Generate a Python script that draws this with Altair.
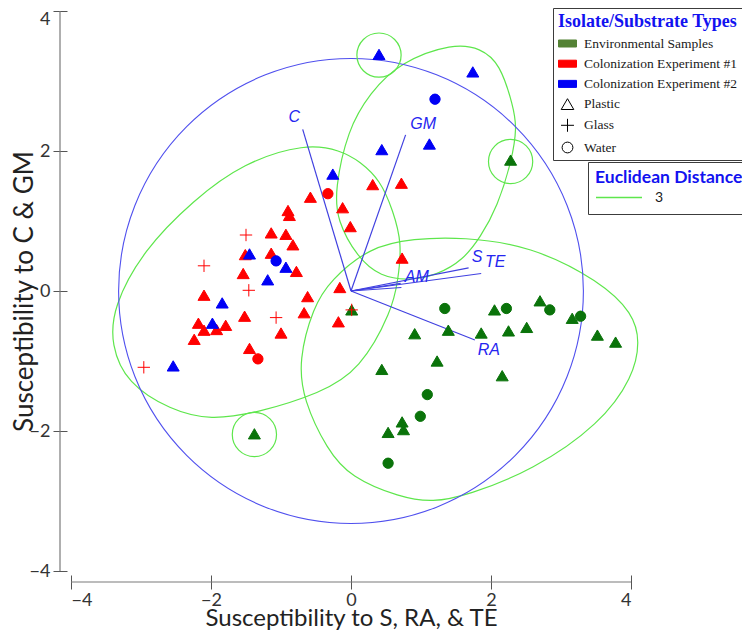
import altair as alt
import pandas as pd

# ---------------- data ----------------
GROUP_LABELS = ["Environmental Samples", "Colonization Experiment #1", "Colonization Experiment #2"]
SUBSTRATES = ["Plastic", "Glass", "Water"]
POINT_GROUPS = ["Environmental", "Colonization #1", "Colonization #2"]

env_plastic_x = [2.28, 0.01, 0.91, 1.39, 1.86, 2.05, 2.25, 2.51, 2.70, 3.16, 3.52, 3.78, 1.23, 0.44, 2.16, 0.73, 0.75, 0.53, -1.38]
env_plastic_y = [1.87, -0.27, -0.61, -0.56, -0.60, -0.27, -0.57, -0.52, -0.14, -0.39, -0.63, -0.73, -1.00, -1.12, -1.21, -1.87, -1.98, -2.02, -2.04]
env_water_x = [1.34, 2.22, 2.84, 3.28, 1.09, 0.99, 0.53]
env_water_y = [-0.25, -0.25, -0.27, -0.36, -1.48, -1.79, -2.46]

col1_plastic_x = [-0.58, -0.12, -0.90, -0.88, -0.01, -1.14, -0.93, -0.83, -1.51, -1.14, -0.78, -1.54, -0.16, -2.10,
                  -0.62, -0.67, -1.52, -0.18, -1.00, -2.18, -2.10, -1.92, -1.79, -2.24, -1.45, 0.31, 0.72, 0.73]
col1_plastic_y = [1.34, 1.19, 1.15, 1.08, 0.92, 0.83, 0.81, 0.66, 0.52, 0.54, 0.28, 0.25, 0.05, -0.06,
                  -0.08, -0.31, -0.36, -0.44, -0.60, -0.46, -0.56, -0.55, -0.49, -0.69, -0.82, 1.52, 1.54, 0.47]
col1_glass_x = [-1.50, -2.10, -1.46, -1.07, 0.01, -2.96]
col1_glass_y = [0.80, 0.36, 0.01, -0.38, -0.27, -1.09]
col1_water_x = [-0.33, -1.33]
col1_water_y = [1.39, -0.97]

col2_plastic_x = [0.40, 1.74, 1.12, 0.44, -0.26, -1.45, -0.93, -1.19, -1.84, -1.98, -2.54]
col2_plastic_y = [3.38, 3.13, 2.10, 2.02, 1.67, 0.53, 0.34, 0.16, -0.17, -0.46, -1.07]
col2_water_x = [1.20, -1.07]
col2_water_y = [2.74, 0.43]

# biplot vectors (the last one is an unlabeled vector hidden under "AM")
vec_names = ["C", "GM", "S", "TE", "AM", ""]
vec_x = [-0.69, 0.78, 1.68, 1.86, 0.72, 0.71]
vec_y = [2.31, 2.23, 0.33, 0.25, 0.05, 0.11]
ra_x, ra_y = 1.77, -0.70
lab_names = ["C", "GM", "S", "TE", "AM", "RA"]
lab_x = [-0.81, 1.03, 1.80, 2.06, 0.94, 1.97]
lab_y = [2.49, 2.39, 0.48, 0.41, 0.20, -0.84]

# Euclidean-distance contours (outline points)
left_x = [-0.65, -0.15, 0.13, 0.42, 0.60, 0.73, 0.67, 0.59, 0.13, -0.44, -1.30, -2.01, -2.58, -3.20, -3.43, -3.40, -2.97, -2.25, -1.54]
left_y = [2.11, 2.01, 1.85, 1.58, 1.15, 0.68, 0.15, -0.27, -1.13, -1.46, -1.73, -1.85, -1.70, -1.32, -0.77, -0.23, 0.58, 1.30, 1.83]
top_x = [1.46, 1.85, 2.13, 2.32, 2.37, 2.30, 2.09, 1.85, 1.60, 1.23, 0.85, 0.42, 0.09, -0.20, -0.23, -0.05, 0.27, 0.70]
top_y = [3.54, 3.47, 3.25, 2.63, 2.34, 1.87, 1.20, 0.77, 0.44, 0.23, 0.15, 0.20, 0.48, 1.01, 1.44, 2.30, 2.83, 3.27]
right_x = [0.89, 1.60, 2.56, 3.56, 4.03, 4.13, 4.03, 3.56, 2.60, 1.66, 1.17, 0.70, -0.01, -0.34, -0.68, -0.75, -0.54, -0.30, 0.27]
right_y = [0.75, 0.77, 0.65, 0.14, -0.32, -0.72, -1.23, -1.90, -2.56, -2.92, -3.02, -2.95, -2.66, -2.27, -1.56, -0.99, -0.23, 0.15, 0.63]
outlier_x = [0.40, 2.28, -1.38]
outlier_y = [3.37, 1.85, -2.05]
outlier_r = 0.316
big_circle_center = (0.0, 0.0)
big_circle_r = 3.32

TICKS = [-4, -2, 0, 2, 4]

# ---------------- styles ----------------
W, H = 560, 560
LO, HI = -4, 4
PX = W / (HI - LO)

PT_GREEN, RED, BLUE = "#0a730a", "#ff0000", "#0000f5"
LEG_GREEN = "#548235"
LINE_GREEN = "#5ee64c"
CIRCLE_BLUE = "#5050ee"
VEC_BLUE = "#4040e0"
LABEL_BLUE = "#2525f0"
TITLE_BLUE = "#1212f0"

RECT = "M-1,-0.39H1V0.39H-1Z"
TRI = "M0,-0.6L0.7,0.6L-0.7,0.6Z"
PLUS = "M-0.72,0H0.72M0,-0.72V0.72"
CIRC = "M0.6,0A0.6,0.6,0,1,1,-0.6,0A0.6,0.6,0,1,1,0.6,0Z"

DOM = GROUP_LABELS + SUBSTRATES + POINT_GROUPS
FILL_RANGE = [LEG_GREEN, RED, BLUE, "white", "white", "white", PT_GREEN, RED, BLUE]
STROKE_RANGE = [LEG_GREEN, RED, BLUE, "black", "black", "black", PT_GREEN, RED, BLUE]
SHAPE_RANGE = [RECT, RECT, RECT, TRI, PLUS, CIRC, CIRC, CIRC, CIRC]

# ---------------- tables ----------------
series = [
    ("Environmental", "Plastic", env_plastic_x, env_plastic_y),
    ("Environmental", "Water", env_water_x, env_water_y),
    ("Colonization #1", "Plastic", col1_plastic_x, col1_plastic_y),
    ("Colonization #1", "Glass", col1_glass_x, col1_glass_y),
    ("Colonization #1", "Water", col1_water_x, col1_water_y),
    ("Colonization #2", "Plastic", col2_plastic_x, col2_plastic_y),
    ("Colonization #2", "Water", col2_water_x, col2_water_y),
]
rows = []
for g, s, xs, ys in series:
    for xv, yv in zip(xs, ys):
        rows.append({"x": xv, "y": yv, "group": g, "substrate": s})
points_df = pd.DataFrame(rows)

crows = []
for cid, (xs, ys) in enumerate([(left_x, left_y), (top_x, top_y), (right_x, right_y)]):
    for i, (xv, yv) in enumerate(zip(xs, ys)):
        crows.append({"x": xv, "y": yv, "cid": cid, "idx": i, "dist": "3"})
cont_df = pd.DataFrame(crows)

all_vx = vec_x + [ra_x]
all_vy = vec_y + [ra_y]
vec_df = pd.DataFrame({"x": all_vx, "y": all_vy,
                       "x0": [big_circle_center[0]] * len(all_vx), "y0": [big_circle_center[1]] * len(all_vy)})
lab_df = pd.DataFrame({"name": lab_names, "x": lab_x, "y": lab_y})
out_df = pd.DataFrame({"x": outlier_x, "y": outlier_y})
big_df = pd.DataFrame({"x": [big_circle_center[0]], "y": [big_circle_center[1]]})
xaxis_df = pd.DataFrame({"x": [TICKS[0]], "x2": [TICKS[-1]]})
yaxis_df = pd.DataFrame({"y": [TICKS[0]], "y2": [TICKS[-1]]})

# ---------------- encodings ----------------
SX = alt.Scale(domain=[LO, HI], nice=False, zero=False)
SY = alt.Scale(domain=[LO, HI], nice=False, zero=False)
AX = alt.Axis(values=TICKS, title="Susceptibility to S, RA, & TE", offset=4, tickSize=14, domain=False,
              grid=False, tickColor="#555555", labelFont="Lato", labelFontSize=18, labelColor="#333333",
              labelPadding=2, titleFont="Lato", titleFontSize=24, titleFontWeight="normal",
              titleColor="#222222", titlePadding=-3)
AY = alt.Axis(values=TICKS, title="Susceptibility to C & GM", offset=4, tickSize=14, domain=False,
              grid=False, tickColor="#555555", labelFont="Lato", labelFontSize=18, labelColor="#333333",
              labelPadding=3, labelOffset=alt.ExprRef(expr="datum.value == 4 ? 8 : 0"),
              titleFont="Lato", titleFontSize=26, titleFontWeight="normal",
              titleColor="#222222", titlePadding=-8)


def X(f):
    return alt.X(f, type="quantitative", scale=SX, axis=AX)


def Y(f):
    return alt.Y(f, type="quantitative", scale=SY, axis=AY)


LEG1 = alt.Legend(title="Isolate/Substrate Types", values=GROUP_LABELS + SUBSTRATES,
                  orient="none", legendX=482, legendY=-3,
                  titleFont="Liberation Serif", titleFontSize=18, titleFontWeight="bold",
                  titleColor=TITLE_BLUE, titlePadding=3,
                  labelFont="Liberation Serif", labelFontSize=13.5, labelColor="#1a1a1a",
                  symbolSize=324, symbolStrokeWidth=1, rowPadding=4.2, labelOffset=7,
                  padding=5, strokeColor="#3c3c3c", fillColor="white", labelLimit=300,
                  symbolOpacity=1)
LEG2 = alt.Legend(title="Euclidean Distance", orient="none", legendX=517, legendY=151,
                  titleFont="Lato", titleFontSize=17.5, titleFontWeight="bold", titleColor=TITLE_BLUE,
                  titlePadding=2, labelFont="Lato", labelFontSize=14, labelColor="#1a1a1a",
                  symbolType="stroke", symbolSize=2116, symbolStrokeWidth=1.3, clipHeight=18,
                  labelOffset=12, padding=7, strokeColor="#3c3c3c", fillColor="white")

contours = alt.Chart(cont_df).mark_line(interpolate="basis-closed", strokeWidth=1.2).encode(
    x=X("x"), y=Y("y"), detail="cid:N", order="idx:Q",
    color=alt.Color("dist:N", scale=alt.Scale(domain=["3"], range=[LINE_GREEN]), legend=LEG2),
)
big_circle = alt.Chart(big_df).mark_point(shape="circle", filled=False, opacity=1, strokeWidth=1.1,
                                          color=CIRCLE_BLUE, size=(2 * big_circle_r * PX) ** 2).encode(
    x=X("x"), y=Y("y"))
small_circles = alt.Chart(out_df).mark_point(shape="circle", filled=False, opacity=1, strokeWidth=1.2,
                                             color=LINE_GREEN, size=(2 * outlier_r * PX) ** 2).encode(
    x=X("x"), y=Y("y"))
xline = alt.Chart(xaxis_df).mark_rule(color="#7a7a7a", strokeWidth=1.2).encode(
    x=X("x"), x2="x2", y=alt.value(H + 11))
yline = alt.Chart(yaxis_df).mark_rule(color="#7a7a7a", strokeWidth=1.2).encode(
    y=Y("y"), y2="y2", x=alt.value(-11))
vectors = alt.Chart(vec_df).mark_rule(color=VEC_BLUE, strokeWidth=1.2).encode(
    x=X("x0"), y=Y("y0"), x2="x", y2="y")
labels = alt.Chart(lab_df).mark_text(font="Liberation Sans", fontStyle="italic", fontSize=16,
                                     color=LABEL_BLUE, align="center", baseline="middle").encode(
    x=X("x"), y=Y("y"), text="name:N")
points = alt.Chart(points_df).mark_point(filled=True, size=294, strokeWidth=1, opacity=1).encode(
    x=X("x"), y=Y("y"),
    fill=alt.Fill("group:N", scale=alt.Scale(domain=DOM, range=FILL_RANGE), legend=LEG1),
    stroke=alt.Stroke("group:N", scale=alt.Scale(domain=DOM, range=STROKE_RANGE), legend=LEG1),
    shape=alt.Shape("substrate:N", scale=alt.Scale(domain=DOM, range=SHAPE_RANGE), legend=LEG1),
)

chart = alt.layer(contours, big_circle, small_circles, xline, yline, vectors, labels, points).properties(
    width=W, height=H,
    autosize=alt.AutoSizeParams(type="none"),
    padding={"left": 63, "top": 3, "right": 111, "bottom": 62},
).configure_view(strokeWidth=0)

chart.save("out.html", embed_options={"renderer": "svg", "actions": False})
